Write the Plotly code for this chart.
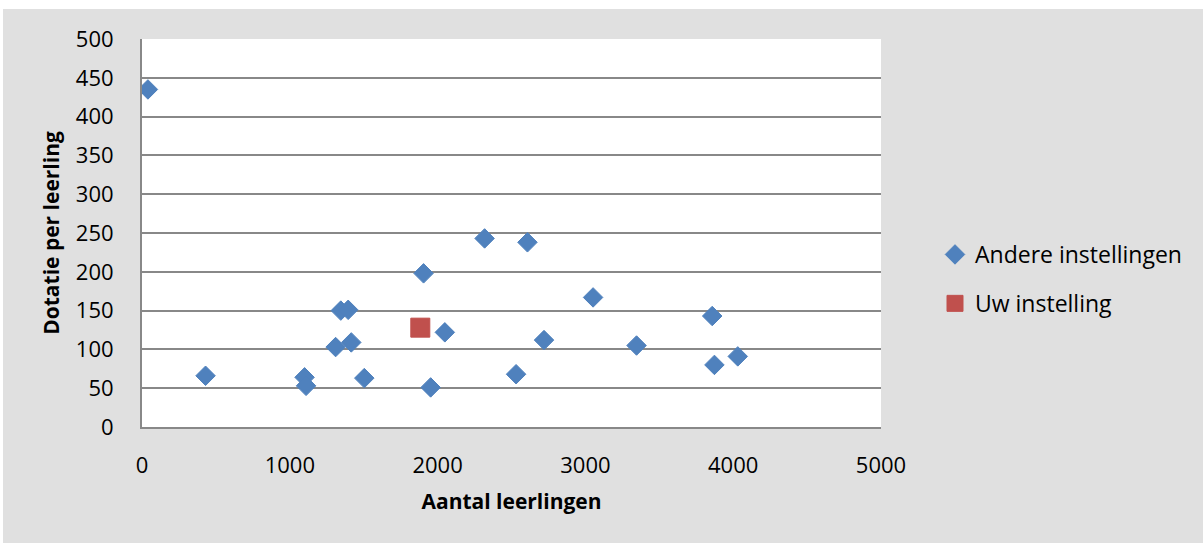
import plotly.graph_objects as go

# Data
andere_x = [40, 430, 1100, 1110, 1310, 1345, 1395, 1416, 1504, 1905, 1953,
            2049, 2318, 2531, 2608, 2720, 3052, 3346, 3858, 3873, 4031]
andere_y = [435, 66, 64, 53, 103, 150, 151, 109, 63, 198, 51,
            122, 243, 68, 238, 112, 167, 105, 143, 80, 91]
uw_x = [1883]
uw_y = [128]

x_ticks = [0, 1000, 2000, 3000, 4000, 5000]
y_ticks = [0, 50, 100, 150, 200, 250, 300, 350, 400, 450, 500]

BLUE = "#4F81BD"
RED = "#C0504D"
GRID = "#888888"
BG = "#E0E0E0"
FONT = "Open Sans, Lato, Liberation Sans, sans-serif"

W, H = 1203, 543
L, R, T, B = 142, 1203 - 881, 39, 543 - 427

fig = go.Figure()
fig.add_trace(go.Scatter(
    x=andere_x, y=andere_y, mode="markers", name="Andere instellingen",
    legendgroup="a",
    marker=dict(symbol="diamond", size=15, color=BLUE,
                line=dict(color=BLUE, width=1)),
))
fig.add_trace(go.Scatter(
    x=uw_x, y=uw_y, mode="markers", name="Uw instelling",
    legendgroup="b",
    marker=dict(symbol="square", size=19, color=RED,
                line=dict(color=RED, width=1)),
))

pw = W - L - R
ph = H - T - B
shapes = [
    # white strip at top and left outside the grey chart area
    dict(type="rect", xref="paper", yref="paper",
         x0=(0 - L) / pw, x1=(W - L) / pw,
         y0=(H - B - 9) / ph, y1=(H - B) / ph + 0.01,
         fillcolor="white", line=dict(width=0), layer="below"),
    dict(type="rect", xref="paper", yref="paper",
         x0=(0 - L) / pw - 0.01, x1=(3 - L) / pw,
         y0=-B / ph - 0.01, y1=(H - B) / ph + 0.01,
         fillcolor="white", line=dict(width=0), layer="below"),
]

fig.update_layout(
    width=W, height=H,
    margin=dict(l=L, r=R, t=T, b=B, autoexpand=False),
    paper_bgcolor=BG,
    plot_bgcolor="white",
    font=dict(family=FONT, color="#000000", size=22),
    shapes=shapes,
    showlegend=True,
    legend=dict(
        x=(935 - L) / pw, xanchor="left",
        y=(427 - 279) / ph, yanchor="middle",
        bgcolor="rgba(0,0,0,0)",
        font=dict(family=FONT, size=23, color="#000000"),
        tracegroupgap=16,
        itemwidth=30,
    ),
    xaxis=dict(
        range=[0, 5000],
        tickvals=x_ticks,
        ticktext=[str(v) for v in x_ticks],
        showgrid=False,
        zeroline=False,
        showline=True, linecolor=GRID, linewidth=2,
        ticks="",
        tickfont=dict(family=FONT, size=22, color="#000000"),
        ticklabelstandoff=18,
        title=dict(text="<b>Aantal leerlingen</b>",
                   font=dict(family=FONT, size=21, color="#000000"),
                   standoff=16),
    ),
    yaxis=dict(
        range=[0, 500],
        tickvals=y_ticks,
        ticktext=[str(v) for v in y_ticks],
        showgrid=True, gridcolor=GRID, gridwidth=2,
        zeroline=False,
        showline=True, linecolor=GRID, linewidth=2,
        ticks="",
        tickfont=dict(family=FONT, size=22, color="#000000"),
        ticklabelstandoff=22,
        title=dict(text="<b>Dotatie per leerling</b>",
                   font=dict(family=FONT, size=21, color="#000000"),
                   standoff=10),
    ),
)

fig.write_html("out.html")
